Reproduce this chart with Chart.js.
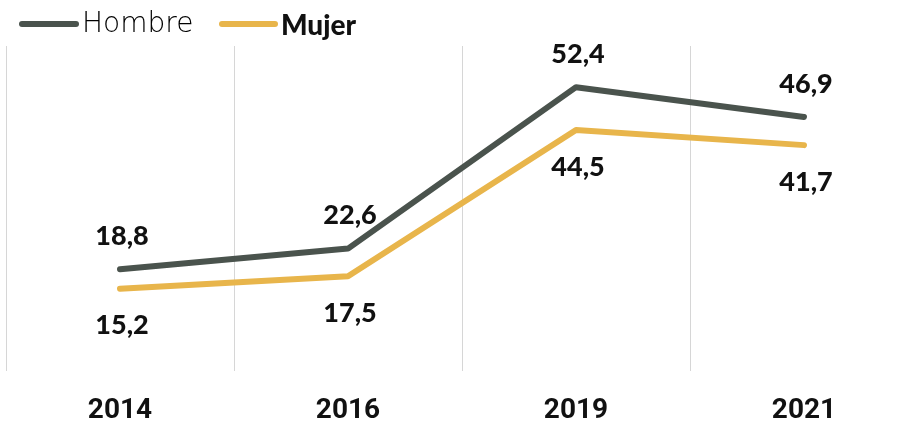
<!DOCTYPE html>
<html>
<head>
<meta charset="utf-8">
<script src="https://cdn.jsdelivr.net/npm/chart.js@4.4.1/dist/chart.umd.min.js"></script>
<style>
  html, body { margin: 0; padding: 0; background: #fff; overflow: hidden; }
  #wrap { position: relative; width: 918px; height: 423px; }
</style>
</head>
<body>
<div id="wrap"><canvas id="chart"></canvas></div>
<script>
// data
const years = ['2014', '2016', '2019', '2021'];
const hombre = [18.8, 22.6, 52.4, 46.9];
const mujer = [15.2, 17.5, 44.5, 41.7];
const seriesNames = ['Hombre', 'Mujer'];

const COLOR_H = '#4a534d';
const COLOR_M = '#e8b54b';

const fmt = v => v.toFixed(1).replace('.', ',');

// value labels: Hombre above the line, Mujer below
const valueLabels = {
    id: 'valueLabels',
    afterDatasetsDraw(chart) {
        const ctx = chart.ctx;
        ctx.save();
        ctx.font = '900 27px Lato, "Open Sans", sans-serif';
        ctx.fillStyle = '#111';
        ctx.textAlign = 'center';
        ctx.textBaseline = 'middle';
        chart.data.datasets.forEach((ds, di) => {
            const meta = chart.getDatasetMeta(di);
            meta.data.forEach((pt, i) => {
                const dy = di === 0 ? -33 : 37;
                ctx.fillText(fmt(ds.data[i]), pt.x + 2, pt.y + dy);
            });
        });
        ctx.restore();
    }
};

// legend with a normal and a bold entry
const topLegend = {
    id: 'topLegend',
    afterDraw(chart) {
        const ctx = chart.ctx;
        ctx.save();
        ctx.lineCap = 'round';
        ctx.lineWidth = 6;
        ctx.textBaseline = 'middle';

        ctx.strokeStyle = COLOR_H;
        ctx.beginPath(); ctx.moveTo(22, 24); ctx.lineTo(76, 24); ctx.stroke();
        ctx.fillStyle = '#000';
        ctx.font = '200 28px "DejaVu Sans", sans-serif';
        ctx.fillText(seriesNames[0], 82, 25);

        ctx.strokeStyle = COLOR_M;
        ctx.beginPath(); ctx.moveTo(222, 24); ctx.lineTo(275, 24); ctx.stroke();
        ctx.fillStyle = '#111';
        ctx.font = '900 28px Lato, sans-serif';
        ctx.fillText(seriesNames[1], 281, 26);
        ctx.restore();
    }
};

new Chart(document.getElementById('chart'), {
    type: 'line',
    data: {
        labels: years,
        datasets: [
            { label: seriesNames[0], data: hombre, borderColor: COLOR_H, backgroundColor: COLOR_H },
            { label: seriesNames[1], data: mujer, borderColor: COLOR_M, backgroundColor: COLOR_M }
        ]
    },
    options: {
        responsive: true,
        maintainAspectRatio: false,
        animation: false,
        layout: { padding: { top: 46, left: 6, right: 0, bottom: 0 } },
        elements: {
            line: { borderWidth: 6, tension: 0, borderCapStyle: 'round', borderJoinStyle: 'round' },
            point: { radius: 0, hoverRadius: 0 }
        },
        plugins: {
            legend: { display: false },
            tooltip: { enabled: false }
        },
        scales: {
            x: {
                offset: true,
                grid: { offset: true, drawTicks: false, color: '#d6d6d6', lineWidth: 1 },
                border: { display: false },
                afterFit: scale => { scale.height = 52; },
                ticks: {
                    padding: 23,
                    color: '#111',
                    font: { family: 'Roboto', weight: 'bold', size: 28 }
                }
            },
            y: { display: false, min: 0, max: 60 }
        }
    },
    plugins: [valueLabels, topLegend]
});
</script>
</body>
</html>
